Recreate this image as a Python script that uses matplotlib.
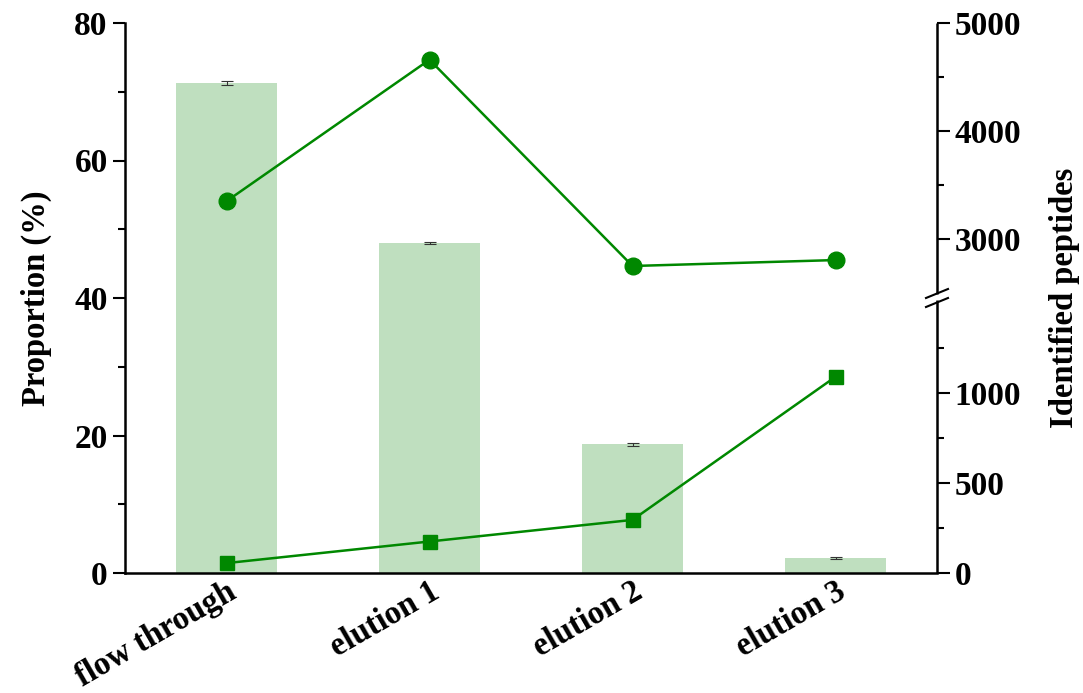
import numpy as np
import matplotlib
matplotlib.use("Agg")
import matplotlib.pyplot as plt
import matplotlib.transforms as mtrans
from matplotlib.ticker import MultipleLocator, FixedLocator

categories = ["flow through", "elution 1", "elution 2", "elution 3"]
proportion = [71.3, 48.0, 18.7, 2.2]
proportion_err = [0.25, 0.2, 0.25, 0.1]
peptides_high = [3350, 4660, 2750, 2805]
peptides_low = [55, 175, 295, 1090]

plt.rcParams['font.family'] = ['Liberation Serif', 'DejaVu Serif']
plt.rcParams['font.weight'] = 'bold'

FS = 24
LFS = 23.5
XFS = 23.5
green = '#008800'
bar_color = '#bfdfbf'

fig = plt.figure(figsize=(10.83, 6.93), dpi=100)
ax = fig.add_axes([125/1083, 120/693, 812/1083, 550/693])

x = np.arange(len(categories))
ax.bar(x, proportion, width=0.5, color=bar_color, yerr=proportion_err,
       error_kw=dict(ecolor='#333333', elinewidth=0.8, capsize=4, capthick=0.8), zorder=1)
ax.set_xlim(-0.5, 3.5)
ax.set_ylim(0, 80)
ax.yaxis.set_major_locator(MultipleLocator(20))
ax.yaxis.set_minor_locator(MultipleLocator(10))
ax.set_xticks(x)
ax.set_xticklabels([""] * len(categories))
ax.tick_params(axis='x', length=0)
lab_trans = ax.get_xaxis_transform() + mtrans.ScaledTranslation(0, -3/100, fig.dpi_scale_trans)
for xi, cat in zip(x, categories):
    ax.text(xi, 0, cat, transform=lab_trans, rotation=30, rotation_mode='anchor',
            ha='right', va='top', fontsize=XFS, fontweight='bold')
ax.tick_params(axis='y', which='major', length=9, width=1.5, labelsize=FS, direction='out')
ax.tick_params(axis='y', which='minor', length=5, width=1.5, direction='out')
ax.set_ylabel("Proportion (%)", fontsize=LFS, fontweight='bold', labelpad=16)
ax.spines['top'].set_visible(False)
ax.spines['right'].set_visible(False)
for s in ['left', 'bottom']:
    ax.spines[s].set_linewidth(1.8)
for lab in ax.get_yticklabels():
    lab.set_fontweight('bold')

# broken right axis via piecewise scale
src = [0, 1500, 2500, 5000]
dst = [0, 270, 280, 550]
def fwd(v):
    return np.interp(v, src, dst)
def inv(v):
    return np.interp(v, dst, src)

ax2 = ax.twinx()
ax2.set_yscale('function', functions=(fwd, inv))
ax2.set_ylim(0, 5000)
ax2.yaxis.set_major_locator(FixedLocator([0, 500, 1000, 3000, 4000, 5000]))
ax2.yaxis.set_minor_locator(FixedLocator([250, 750, 1250, 3500, 4500]))
ax2.yaxis.set_major_formatter(plt.FuncFormatter(lambda v, p: f"{int(v)}"))
ax2.tick_params(axis='y', which='major', length=9, width=1.5, labelsize=FS, direction='out')
ax2.tick_params(axis='y', which='minor', length=5, width=1.5, direction='out')
for lab in ax2.get_yticklabels():
    lab.set_fontweight('bold')
ax2.set_ylabel("Identified peptides", fontsize=LFS, fontweight='bold', labelpad=20)
for s in ['top', 'left', 'bottom', 'right']:
    ax2.spines[s].set_visible(False)

ax2.plot(x, peptides_high, color=green, lw=1.8, marker='o', markersize=12, zorder=3)
ax2.plot(x, peptides_low, color=green, lw=1.8, marker='s', markersize=10.5, zorder=3)

# right spine with break
H = 550.0
lo_top = 273 / H
hi_bot = 279 / H
ax2.plot([1, 1], [0, lo_top], transform=ax2.transAxes, color='black', lw=1.8,
         clip_on=False, solid_capstyle='butt')
ax2.plot([1, 1], [hi_bot, 1], transform=ax2.transAxes, color='black', lw=1.8,
         clip_on=False, solid_capstyle='butt')
dx = 11 / 812
dy = 4.5 / H
for yc in [fwd(2450) / H, fwd(1550) / H]:
    ax2.plot([1 - dx, 1 + dx], [yc - dy, yc + dy], transform=ax2.transAxes,
             color='black', lw=1.5, clip_on=False)

fig.savefig("out.png", dpi=100)
